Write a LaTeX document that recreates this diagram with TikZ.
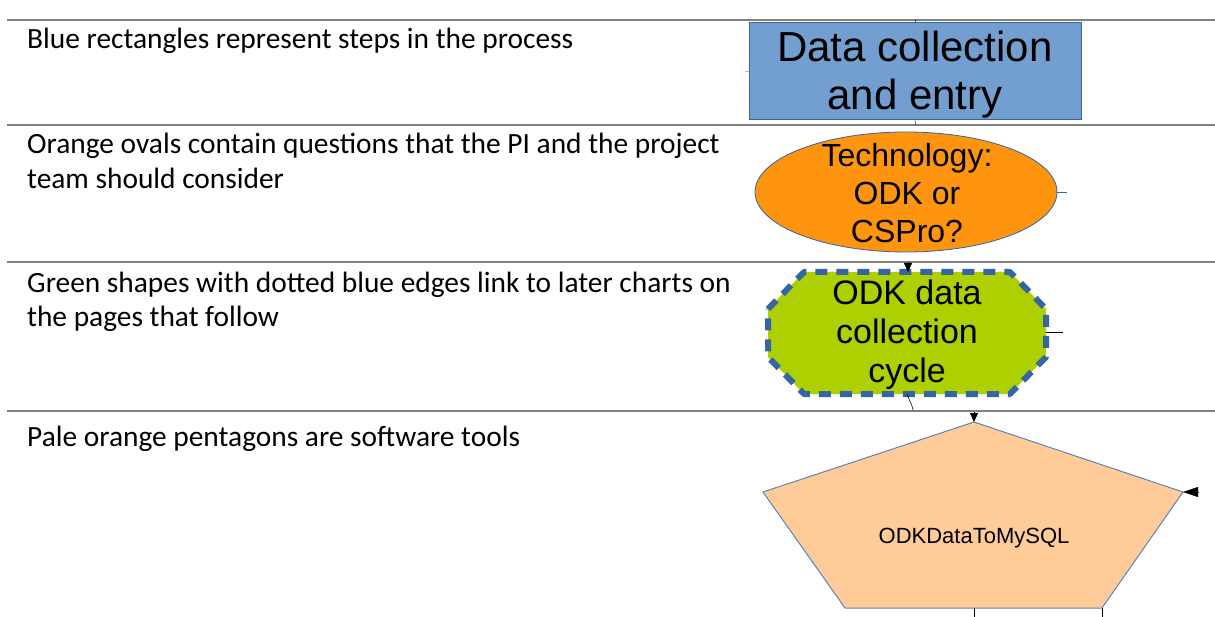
\documentclass[tikz,border=0pt]{standalone}
\usepackage{fontspec}
\setmainfont{Carlito}
\newfontfamily\shapefont{Liberation Sans}
\usetikzlibrary{shapes.geometric,arrows.meta}

\definecolor{rulegray}{HTML}{808080}
\definecolor{stepblue}{HTML}{729FCF}
\definecolor{edgeblue}{HTML}{3465A4}
\definecolor{askorange}{HTML}{FF950E}
\definecolor{linkgreen}{HTML}{AECF00}
\definecolor{toolorange}{HTML}{FFCC99}

\begin{document}
\begin{tikzpicture}[x=1pt,y=-1pt,
  rule/.style={draw=rulegray,line width=2pt},
  legend/.style={anchor=base west,inner sep=0pt,align=left,font=\fontsize{29.4}{35}\selectfont},
  shapetext/.style={inner sep=0pt,align=center,text=black},
  tip/.style={-{Triangle[length=9pt,width=8pt]}}]
\useasboundingbox (0,0) rectangle (1215,617);

% rows of the table
\foreach \y in {20,125,262,411}
  \draw[rule] (7,\y) -- (1215,\y);

% base of a two line text is its last line
\node[legend] (blue) at (27,49) {Blue rectangles represent steps in the process};
\node[legend] (orange) at (27,189) {Orange ovals contain questions that the PI and the project\\team should consider};
\node[legend] (green) at (27,327) {Green shapes with dotted blue edges link to later charts on\\the pages that follow};
\node[legend] (pale) at (27,446) {Pale orange pentagons are software tools};

% blue step
\node[draw=edgeblue,fill=stepblue,line width=1pt,minimum width=332pt,minimum height=97pt,inner sep=0pt] (step) at (915,71.5) {};
\node[shapetext,font=\shapefont\fontsize{42}{48}\selectfont] (steptext) at (915,75) {Data collection\\and entry};
\draw (916,20) -- (step.north);
\draw (step.south) -- (916,125);
\draw[edgeblue] (745,72) -- (step.west);

% orange question
\node[ellipse,draw=edgeblue,fill=askorange,line width=0.8pt,minimum width=302pt,minimum height=120pt,inner sep=0pt] (ask) at (906,192) {};
\node[shapetext,font=\shapefont\fontsize{32}{38}\selectfont] (asktext) at (907,193) {Technology:\\ODK or\\CSPro?};
\draw[edgeblue] (ask.east) -- (1067,192);

% green link, chamfered corners
\coordinate (G1) at (768,309);
\coordinate (G2) at (804,272);
\coordinate (G3) at (1010,272);
\coordinate (G4) at (1046,309);
\coordinate (G5) at (1046,357);
\coordinate (G6) at (1010,394);
\coordinate (G7) at (804,394);
\coordinate (G8) at (768,357);
\coordinate (GC) at (907,335);
\filldraw[fill=linkgreen,draw=edgeblue,line width=6pt,dash pattern=on 12pt off 9pt,line join=round]
  (G1) -- (G2) -- (G3) -- (G4) -- (G5) -- (G6) -- (G7) -- (G8) -- cycle;
\node[shapetext,font=\shapefont\fontsize{34}{39}\selectfont] (link) at (GC) {ODK data\\collection\\cycle};
\coordinate (gin) at (908,262);
\coordinate (gtop) at (908,272);
\draw[tip] (gin) -- (gtop);
\draw (1046,332) -- (1063,332);
\coordinate (gbot) at (907,394);
\coordinate (gout) at (913,410);
\draw[line width=0.6pt] (gbot) .. controls (909,400) and (912,404) .. (gout);

% pale orange tool
\coordinate (P1) at (974,422);
\coordinate (P2) at (1183,492);
\coordinate (P3) at (1102,608);
\coordinate (P4) at (845,608);
\coordinate (P5) at (763,492);
\filldraw[fill=toolorange,draw=edgeblue!80,line width=1pt] (P1) -- (P2) -- (P3) -- (P4) -- (P5) -- cycle;
\node[shapetext,font=\shapefont\fontsize{22}{26}\selectfont] (tool) at (974,538) {ODKDataToMySQL};
\coordinate (pin) at (974,412);
\draw[tip] (pin) -- (P1);
\coordinate (pright) at (1198,492);
\draw[-{Triangle[length=15pt,width=10pt]}] (pright) -- (P2);
\coordinate (pbot) at (974,608);
\draw (pbot) -- (974,617);
\draw (P3) -- (1102,617);

\end{tikzpicture}
\end{document}
